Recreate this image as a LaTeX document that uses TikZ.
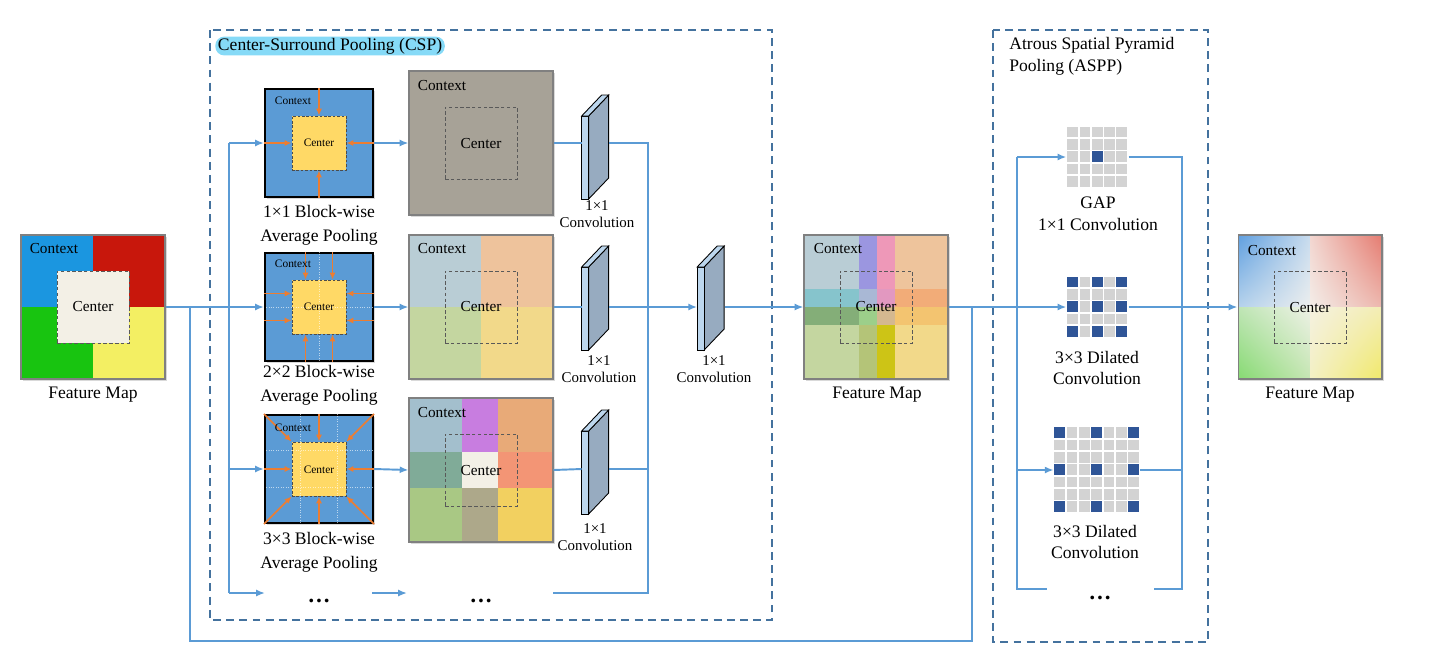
\documentclass[tikz,border=0pt]{standalone}
\usepackage{fontspec}
\setmainfont{Liberation Serif}
\usetikzlibrary{arrows.meta,calc,shadows,shadings}

\definecolor{flow}{HTML}{5B9BD5}
\definecolor{frame}{HTML}{44729E}
\definecolor{poolblue}{HTML}{5B9BD5}
\definecolor{poolyellow}{HTML}{FFD966}
\definecolor{pull}{HTML}{ED7D31}
\definecolor{slabfront}{HTML}{BDD7EE}
\definecolor{slabside}{HTML}{97ABC0}
\definecolor{cellgrey}{HTML}{D3D3D3}
\definecolor{cellblue}{HTML}{2F5597}
\definecolor{csptag}{HTML}{86DAF7}
\definecolor{in1}{HTML}{1B96E0}\definecolor{in2}{HTML}{C8170C}
\definecolor{in3}{HTML}{18C410}\definecolor{in4}{HTML}{F3EF63}
\definecolor{inc}{HTML}{F3F0E6}
\definecolor{g1}{HTML}{A7A297}
\definecolor{q1}{HTML}{B9CDD5}\definecolor{q2}{HTML}{EEC39C}
\definecolor{q3}{HTML}{C4D6A0}\definecolor{q4}{HTML}{F2D98A}
\definecolor{t11}{HTML}{A3BFCD}\definecolor{t12}{HTML}{C87DE0}\definecolor{t13}{HTML}{E8AA78}
\definecolor{t21}{HTML}{80AB98}\definecolor{t22}{HTML}{F3F0E6}\definecolor{t23}{HTML}{F39575}
\definecolor{t31}{HTML}{A9C884}\definecolor{t32}{HTML}{ADA88A}\definecolor{t33}{HTML}{F2D060}
\definecolor{m11}{HTML}{B9CDD5}\definecolor{m12}{HTML}{9B96E0}\definecolor{m13}{HTML}{EE98B8}\definecolor{m14}{HTML}{EEC49C}
\definecolor{m21}{HTML}{86C4CC}\definecolor{m22}{HTML}{A9B8D5}\definecolor{m23}{HTML}{E298C0}\definecolor{m24}{HTML}{F2AC78}
\definecolor{m31}{HTML}{84AE78}\definecolor{m32}{HTML}{9CCF8A}\definecolor{m33}{HTML}{D4B890}\definecolor{m34}{HTML}{F3C470}
\definecolor{m41}{HTML}{C4D6A0}\definecolor{m42}{HTML}{B4C478}\definecolor{m43}{HTML}{CDC416}\definecolor{m44}{HTML}{F2D98A}
\definecolor{b1}{HTML}{5F9FE0}\definecolor{b2}{HTML}{C9DCEE}\definecolor{b3}{HTML}{B5D2EC}\definecolor{b4}{HTML}{ECEEEE}
\definecolor{r1}{HTML}{F2D6D0}\definecolor{r2}{HTML}{E57B70}\definecolor{r3}{HTML}{F3EDE8}\definecolor{r4}{HTML}{EDB7AE}
\definecolor{v1}{HTML}{BFE5B5}\definecolor{v2}{HTML}{EEF1E6}\definecolor{v3}{HTML}{86DA72}\definecolor{v4}{HTML}{C6E6B4}
\definecolor{y1}{HTML}{F5F1E0}\definecolor{y2}{HTML}{F3EDB4}\definecolor{y3}{HTML}{F3F0C4}\definecolor{y4}{HTML}{F1E96A}

% 1x1 convolution as a thin slab: name, position on the line, drop of the front face below the line
\newcommand{\slab}[3]{%
  \node[slabnode] (#1) at (#2) {};
  \filldraw[slabline,fill=slabside] ($(#1.west)+(7,#3)$) -- ++(0,-83) -- ++(20,-21) -- ++(0,83) -- cycle;
  \filldraw[slabline,fill=slabfront] ($(#1.west)+(0,#3)$) rectangle ++(7,-83);
  \filldraw[slabline,fill=slabfront] ($(#1.west)+(0,#3-83)$) -- ++(7,0) -- ++(20,-21) -- ++(-7,0) -- cycle;
}
% kernel grid: name, centre, last index, blue rows/columns
\newcommand{\kernel}[4]{%
  \node[minimum size=(#3+1)*0.246cm] (#1) at (#2) {};
  \foreach \i in {0,...,#3} \foreach \j in {0,...,#3}
    \fill[cellgrey] ($(#1.north west)+(\i*12.3+0.8,\j*12.3+0.8)$) rectangle ++(10.7,10.7);
  \foreach \i in {#4} \foreach \j in {#4}
    \fill[cellblue] ($(#1.north west)+(\i*12.3+0.8,\j*12.3+0.8)$) rectangle ++(10.7,10.7);
}

\begin{document}
\begin{tikzpicture}[x=0.02cm,y=-0.02cm,inner sep=0pt,
  flowline/.style={color=flow,line width=1.1pt},
  flowarrow/.style={flowline,-{Latex[length=5pt,width=4pt]}},
  pullarrow/.style={color=pull,line width=.9pt,-{Latex[length=4pt,width=3.5pt]}},
  groupbox/.style={draw=frame,line width=1.1pt,dash pattern=on 4.5pt off 3pt},
  shadowed/.style={drop shadow={opacity=.3,shadow xshift=1.3pt,shadow yshift=-1.3pt}},
  fmbox/.style={draw=black!50,line width=.6pt,minimum size=2.88cm},
  centerbox/.style={draw=black!65,line width=.5pt,dash pattern=on 2pt off 1.3pt,minimum size=1.44cm},
  poolbox/.style={draw=black,line width=1.2pt,fill=poolblue,minimum size=2.16cm,shadowed},
  poolcenter/.style={draw=black!70,line width=.5pt,dash pattern=on 1.5pt off 1pt,fill=poolyellow,minimum size=1.08cm},
  poolgrid/.style={draw=white,opacity=.6,line width=.4pt,densely dotted,shorten <=1.2pt,shorten >=1.2pt},
  slabnode/.style={minimum width=.54cm,minimum height=.2cm},
  slabline/.style={draw=black,line width=.5pt},
  ctx/.style={font=\fontsize{8.7}{10}\selectfont},
  poolctx/.style={font=\fontsize{6.5}{7}\selectfont},
  textlabel/.style={font=\fontsize{10}{13.5}\selectfont,align=center},
  kernellabel/.style={font=\fontsize{10}{12.3}\selectfont,align=center},
  convlabel/.style={font=\fontsize{8.5}{9.8}\selectfont,align=center},
  dots/.style={font=\fontsize{13}{13}\selectfont\bfseries}]

\useasboundingbox (0,0) rectangle (1433,664);

\draw[groupbox] (210,30) rectangle (772,620);
\draw[groupbox] (993,30) rectangle (1208,642);
\node[fill=csptag,rounded corners=5pt,inner xsep=1.5pt,inner ysep=.8pt,anchor=west,
  font=\fontsize{10}{12}\selectfont] (csp) at (215,46) {Center-Surround Pooling (CSP)};
\node[kernellabel,align=left,anchor=west] (aspp) at (1009,56) {Atrous Spatial Pyramid\\Pooling (ASPP)};

% input feature map
\path[fill=white,shadowed] (21,235) rectangle (165,379);
\fill[in1] (21,235) rectangle (93,307); \fill[in2] (93,235) rectangle (165,307);
\fill[in3] (21,307) rectangle (93,379); \fill[in4] (93,307) rectangle (165,379);
\node[centerbox,fill=inc] (fm1c) at (93,307) {};
\node[fmbox] (fm1) at (93,307) {};
\node[ctx] at (54,249) {Context};
\node[ctx] at (93,307) {Center};
\node[textlabel] at (93,395) {Feature Map};

% block-wise pooling
\node[poolbox] (p1) at (319,143) {};
\node[poolcenter] (p1c) at (319,143) {};
\foreach \a in {north,south,east,west}
  \path[pullarrow] (p1.\a) edge (p1c.\a);

\node[poolbox] (p2) at (319,307) {};
\node[poolcenter] (p2c) at (319,307) {};
\draw[poolgrid] (p2.north) -- (p2.south) (p2.west) -- (p2.east);
\foreach \d in {-13.5,13.5}
  \path[pullarrow] ($(p2.north)+(\d,0)$) edge ($(p2c.north)+(\d,0)$)
    ($(p2.south)+(\d,0)$) edge ($(p2c.south)+(\d,0)$)
    ($(p2.west)+(0,\d)$) edge ($(p2c.west)+(0,\d)$)
    ($(p2.east)+(0,\d)$) edge ($(p2c.east)+(0,\d)$);

\node[poolbox] (p3) at (319,469) {};
\node[poolcenter] (p3c) at (319,469) {};
\foreach \f in {0.333,0.667}
  \draw[poolgrid] ($(p3.north west)!\f!(p3.north east)$) -- ($(p3.south west)!\f!(p3.south east)$)
    ($(p3.north west)!\f!(p3.south west)$) -- ($(p3.north east)!\f!(p3.south east)$);
\foreach \a in {north,south,east,west,north west,north east,south west,south east}
  \path[pullarrow] (p3.\a) edge (p3c.\a);

\node[poolctx] at (293,101) {Context};
\node[poolctx] at (319,143) {Center};
\node[poolctx] at (293,264) {Context};
\node[poolctx] at (319,307) {Center};
\node[poolctx] at (293,428) {Context};
\node[poolctx] at (319,470) {Center};
\node[textlabel] at (319,225) {1×1 Block-wise\\Average Pooling};
\node[textlabel] at (319,385) {2×2 Block-wise\\Average Pooling};
\node[textlabel] at (319,552) {3×3 Block-wise\\Average Pooling};

% pooled maps
\path[fill=g1,shadowed] (409,71) rectangle (553,215);
\node[centerbox] (o1c) at (481,143) {};
\node[fmbox] (o1) at (481,143) {};

\path[fill=white,shadowed] (409,235) rectangle (553,379);
\fill[q1] (409,235) rectangle (481,307); \fill[q2] (481,235) rectangle (553,307);
\fill[q3] (409,307) rectangle (481,379); \fill[q4] (481,307) rectangle (553,379);
\node[centerbox] (o2c) at (481,307) {};
\node[fmbox] (o2) at (481,307) {};

\path[fill=white,shadowed] (409,398) rectangle (553,542);
\fill[t11] (409,398) rectangle (462,452); \fill[t12] (462,398) rectangle (498,452); \fill[t13] (498,398) rectangle (553,452);
\fill[t21] (409,452) rectangle (462,488); \fill[t22] (462,452) rectangle (498,488); \fill[t23] (498,452) rectangle (553,488);
\fill[t31] (409,488) rectangle (462,542); \fill[t32] (462,488) rectangle (498,542); \fill[t33] (498,488) rectangle (553,542);
\node[centerbox] (o3c) at (481,470) {};
\node[fmbox] (o3) at (481,470) {};

\node[ctx] at (442,86) {Context};
\node[ctx] at (481,144) {Center};
\node[ctx] at (442,249) {Context};
\node[ctx] at (481,307) {Center};
\node[ctx] at (442,413) {Context};
\node[ctx] at (481,471) {Center};

% 1x1 convolutions
\slab{c1}{595.5,143}{56}
\slab{c2}{595.5,307}{43}
\slab{c3}{595.5,469}{45}
\slab{c4}{711,307}{43}
\node[convlabel] at (597,214) {1×1\\Convolution};
\node[convlabel] at (599,369) {1×1\\Convolution};
\node[convlabel] at (595,537) {1×1\\Convolution};
\node[convlabel] at (714,369) {1×1\\Convolution};

\node[dots] (d1) at (319,601) {\dots};
\node[dots] (d2) at (481,601) {\dots};

% CSP feature map
\path[fill=white,shadowed] (804,235) rectangle (948,379);
\fill[m11] (804,235) rectangle (859,289); \fill[m12] (859,235) rectangle (877,289);
\fill[m13] (877,235) rectangle (895,289); \fill[m14] (895,235) rectangle (948,289);
\fill[m21] (804,289) rectangle (859,307); \fill[m22] (859,289) rectangle (877,307);
\fill[m23] (877,289) rectangle (895,307); \fill[m24] (895,289) rectangle (948,307);
\fill[m31] (804,307) rectangle (859,325); \fill[m32] (859,307) rectangle (877,325);
\fill[m33] (877,307) rectangle (895,325); \fill[m34] (895,307) rectangle (948,325);
\fill[m41] (804,325) rectangle (859,379); \fill[m42] (859,325) rectangle (877,379);
\fill[m43] (877,325) rectangle (895,379); \fill[m44] (895,325) rectangle (948,379);
\node[centerbox] (fm2c) at (876,307) {};
\node[fmbox] (fm2) at (876,307) {};
\node[ctx] at (838,249) {Context};
\node[ctx] at (876,307) {Center};
\node[textlabel] at (877,395) {Feature Map};

% ASPP kernels
\kernel{k1}{1097.5,157}{4}{2}
\kernel{k2}{1097.5,307}{4}{0,2,4}
\kernel{k3}{1097,470}{6}{0,3,6}
\node[kernellabel] at (1098,214) {GAP\\1×1 Convolution};
\node[kernellabel] at (1097,368) {3×3 Dilated\\Convolution};
\node[kernellabel] at (1095,542) {3×3 Dilated\\Convolution};
\node[dots] (d3) at (1100,598) {\dots};

% output feature map
\path[fill=white,shadowed] (1238,235) rectangle (1382,379);
\shade[upper left=b1,upper right=b2,lower left=b3,lower right=b4] (1238,235) rectangle (1310,307);
\shade[upper left=r1,upper right=r2,lower left=r3,lower right=r4] (1310,235) rectangle (1382,307);
\shade[upper left=v1,upper right=v2,lower left=v3,lower right=v4] (1238,307) rectangle (1310,379);
\shade[upper left=y1,upper right=y2,lower left=y3,lower right=y4] (1310,307) rectangle (1382,379);
\node[centerbox] (fm3c) at (1310,307) {};
\node[fmbox] (fm3) at (1310,307) {};
\node[ctx] at (1272,251) {Context};
\node[ctx] at (1310,308) {Center};
\node[textlabel] at (1310,395) {Feature Map};

% connectors
\coordinate (b1) at (229,143);
\coordinate (b3) at (229,469);
\coordinate (b4) at (229,593);
\coordinate (e1) at (265,593);
\coordinate (e2) at (372,593);
\coordinate (e3) at (407,593);
\coordinate (e4) at (553,593);
\coordinate (r4) at (648,593);
\coordinate (s1) at (190,307);
\coordinate (s2) at (972,307);
\coordinate (a1) at (1017,157);
\coordinate (a3) at (1017,470);
\coordinate (a4) at (1017,589);
\coordinate (f1) at (1047,589);
\coordinate (f2) at (1154,589);
\coordinate (r5) at (1182,589);

\path[flowarrow] (fm1.east) edge (p2.west);
\draw[flowline] (b1) -- (b4);
\path[flowarrow] (b1) edge (p1.west) (b3) edge (p3.west) (b4) edge (e1);
\path[flowarrow] (p1.east) edge (o1.west) (p2.east) edge (o2.west)
  (p3.east) edge (o3.west) (e2) edge (e3);
\path[flowline] (o1.east) edge (c1.west) (o2.east) edge (c2.west) (o3.east) edge (c3.west);
\draw[flowline] (c1.east) -| (r4) -- (e4);
\draw[flowline] (c3.east) -- (c3.east -| r4);
\path[flowarrow] (c2.east) edge (c4.west) (c4.east) edge (fm2.west);
\draw[flowline] (s1) -- ++(0,334) -| (s2);
\path[flowarrow] (fm2.east) edge (k2.west) (k2.east) edge (fm3.west);
\draw[flowline] (a1) -- (a4) -- (f1);
\path[flowarrow] (a1) edge (k1.west) (a3) edge (k3.west);
\draw[flowline] (k1.east) -| (r5) -- (f2);
\draw[flowline] (k3.east) -- (k3.east -| r5);

\end{tikzpicture}
\end{document}
